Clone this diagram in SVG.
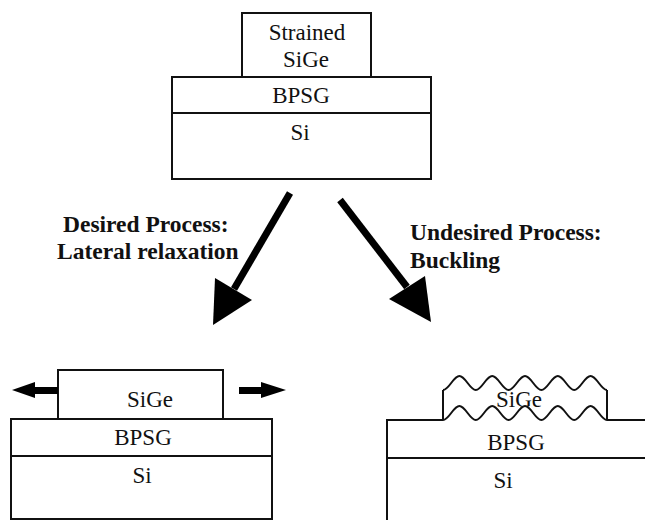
<svg xmlns="http://www.w3.org/2000/svg" width="645" height="520" viewBox="0 0 645 520">
  <style>
    .layer { fill: #fff; stroke: #111; stroke-width: 2; }
    .edge { fill: none; stroke: #111; stroke-width: 2; }
    .lbl { font-family: "Liberation Serif", "Times New Roman", serif; font-size: 23px; fill: #111; text-anchor: middle; }
    .proc { font-family: "Liberation Serif", "Times New Roman", serif; font-size: 23.5px; font-weight: bold; fill: #111; }
    .shaft { stroke: #000; stroke-width: 7; fill: none; }
    .head { fill: #000; stroke: none; }
  </style>
  <defs>
    <!-- sinusoidal interface of the buckled film: five periods between x=443 and x=607 -->
    <path id="wave" d="M443,390 C449,390 453.4,376 459.4,376 S469.8,390 475.8,390 S486.2,376 492.2,376 S502.6,390 508.6,390 S519,376 525,376 S535.4,390 541.4,390 S551.8,376 557.8,376 S568.2,390 574.2,390 S584.6,376 590.6,376 S601,390 607,390"/>
  </defs>
  <rect width="645" height="520" fill="#fff"/>

  <!-- initial stack: strained SiGe on BPSG on Si -->
  <g id="initial-stack">
    <rect class="layer" x="242" y="13" width="129" height="64"/>
    <rect class="layer" x="172" y="77" width="259" height="102"/>
    <line class="edge" x1="172" y1="113" x2="431" y2="113"/>
    <text class="lbl" x="307" y="40">Strained</text>
    <text class="lbl" x="306" y="67">SiGe</text>
    <text class="lbl" x="301" y="103">BPSG</text>
    <text class="lbl" x="300" y="140">Si</text>
  </g>

  <!-- process labels -->
  <g id="label-desired">
    <text class="proc" x="63" y="232">Desired Process:</text>
    <text class="proc" x="57" y="259">Lateral relaxation</text>
  </g>
  <g id="label-undesired">
    <text class="proc" x="410" y="240">Undesired Process:</text>
    <text class="proc" x="410" y="268">Buckling</text>
  </g>

  <!-- connectors from the initial stack to both outcomes -->
  <g id="connectors">
    <line class="shaft" x1="290" y1="193" x2="234" y2="289"/>
    <polygon class="head" points="213,325 215,278 252,300"/>
    <line class="shaft" x1="340" y1="200" x2="407" y2="287"/>
    <polygon class="head" points="431,322 389,299 425,276"/>
  </g>

  <!-- outcome 1: laterally relaxed SiGe -->
  <g id="relaxed-stack">
    <rect class="layer" x="58" y="370" width="165" height="49"/>
    <rect class="layer" x="11" y="419" width="261" height="100"/>
    <line class="edge" x1="11" y1="456" x2="272" y2="456"/>
    <polygon class="head" points="12,390 35,382 35,387 58,387 58,394 35,394 35,398"/>
    <polygon class="head" points="286,390 261,382 261,387 239,387 239,394 261,394 261,398"/>
    <text class="lbl" x="150" y="407">SiGe</text>
    <text class="lbl" x="143" y="445">BPSG</text>
    <text class="lbl" x="142" y="483">Si</text>
  </g>

  <!-- outcome 2: buckled SiGe -->
  <g id="buckled-stack">
    <path class="edge" d="M387,520 V420 H443 M607,420 H646 M387,458 H646 M443,390 V420 M607,390 V420"/>
    <use href="#wave" class="edge"/>
    <use href="#wave" class="edge" transform="translate(0,30)"/>
    <text class="lbl" x="519" y="407">SiGe</text>
    <text class="lbl" x="516" y="450">BPSG</text>
    <text class="lbl" x="503" y="488">Si</text>
  </g>
</svg>
